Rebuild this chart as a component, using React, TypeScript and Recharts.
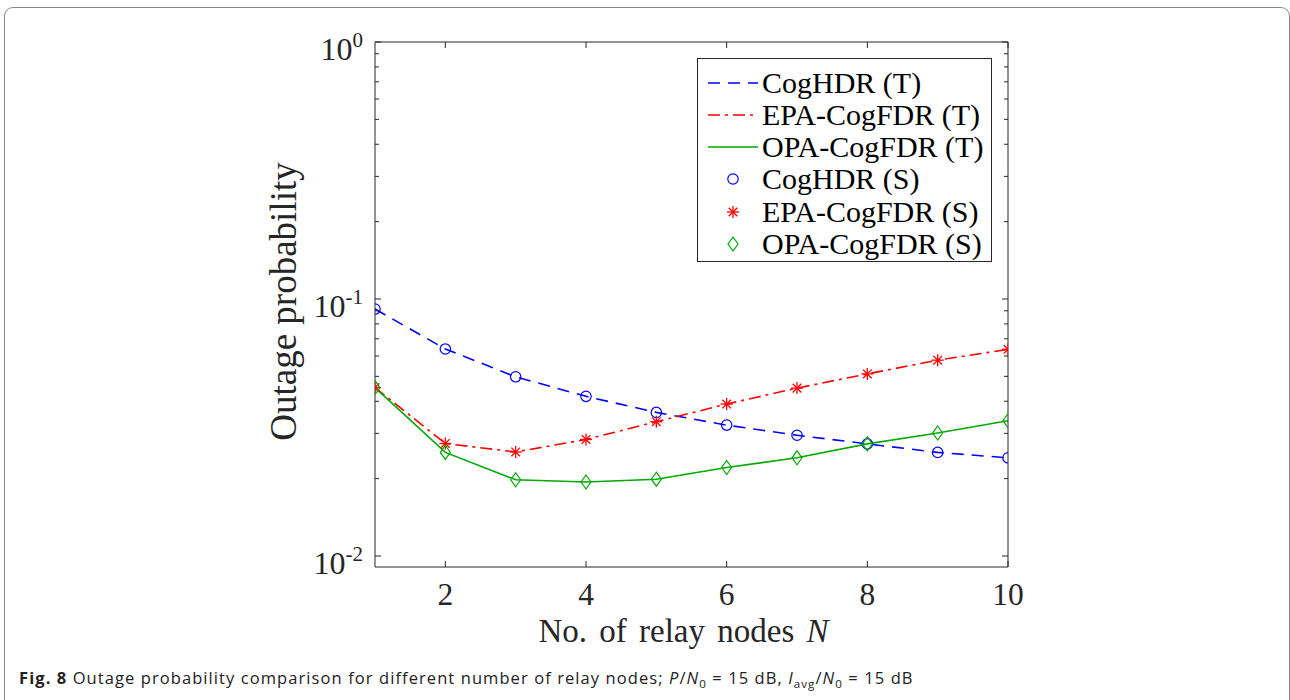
import { LineChart, Line, XAxis, YAxis, Legend } from "recharts";

// relay count N on the x axis
const relayNodes = [1, 2, 3, 4, 5, 6, 7, 8, 9, 10];

// outage probability per scheme
const cogHdr = [0.0914, 0.0639, 0.0498, 0.0418, 0.0362, 0.0323, 0.0295, 0.0273, 0.0253, 0.0241];
const epaCogFdr = [0.0452, 0.0274, 0.0254, 0.0284, 0.0333, 0.039, 0.045, 0.0511, 0.0578, 0.0637];
const opaCogFdr = [0.0452, 0.0253, 0.0198, 0.0194, 0.0199, 0.0221, 0.0241, 0.0273, 0.0301, 0.0336];

const xTicks = [2, 4, 6, 8, 10];
const yMajorTicks = [0.01, 0.1, 1];
const yMajorExponents = ["-2", "-1", "0"];
const yMinorTicks = [
  0.02, 0.03, 0.04, 0.05, 0.06, 0.07, 0.08, 0.09,
  0.2, 0.3, 0.4, 0.5, 0.6, 0.7, 0.8, 0.9,
];
const yDomain = [0.00906, 1];

const data = relayNodes.map((n, i) => ({
  n,
  hdr: cogHdr[i],
  epa: epaCogFdr[i],
  opa: opaCogFdr[i],
}));

const AXIS = "#262626";
const SERIF = '"Liberation Serif", "Times New Roman", serif';

const series = [
  { key: "hdr", label: "CogHDR", color: "#0000ff", dash: "12 8", marker: "circle" },
  { key: "epa", label: "EPA-CogFDR", color: "#ff0000", dash: "12 5 3 5", marker: "star" },
  { key: "opa", label: "OPA-CogFDR", color: "#00aa00", dash: undefined, marker: "diamond" },
];

function Marker({ cx, cy, kind, color }: { cx: number; cy: number; kind: string; color: string }) {
  if (kind === "circle") {
    return <circle cx={cx} cy={cy} r={5.2} fill="none" stroke={color} strokeWidth={1.2} />;
  }
  if (kind === "star") {
    const r = 6;
    const d = r * 0.72;
    return (
      <g stroke={color} strokeWidth={1.3}>
        <line x1={cx - r} y1={cy} x2={cx + r} y2={cy} />
        <line x1={cx} y1={cy - r} x2={cx} y2={cy + r} />
        <line x1={cx - d} y1={cy - d} x2={cx + d} y2={cy + d} />
        <line x1={cx - d} y1={cy + d} x2={cx + d} y2={cy - d} />
      </g>
    );
  }
  return (
    <polygon
      points={`${cx},${cy - 7} ${cx + 5},${cy} ${cx},${cy + 7} ${cx - 5},${cy}`}
      fill="none"
      stroke={color}
      strokeWidth={1.2}
    />
  );
}

function BottomTick({ x, y, payload }: any) {
  return (
    <g>
      <line x1={x} y1={y} x2={x} y2={y - 6} stroke={AXIS} />
      <text x={x} y={y + 38} textAnchor="middle" fontSize={31.5} fontFamily={SERIF} fill={AXIS}>
        {payload.value}
      </text>
    </g>
  );
}

function TopTick({ x, y }: any) {
  return <line x1={x} y1={y} x2={x} y2={y + 6} stroke={AXIS} />;
}

function LeftTick({ x, y, payload }: any) {
  const idx = yMajorTicks.indexOf(payload.value);
  const len = idx >= 0 ? 6 : 4;
  return (
    <g>
      <line x1={x} y1={y} x2={x + len} y2={y} stroke={AXIS} />
      {idx >= 0 && (
        <text x={x - 12} y={y + 18} textAnchor="end" fontSize={32} fontFamily={SERIF} fill={AXIS}>
          <tspan>10</tspan>
          <tspan dy={-13} fontSize={21}>
            {yMajorExponents[idx]}
          </tspan>
        </text>
      )}
    </g>
  );
}

function RightTick({ x, y, payload }: any) {
  const len = yMajorTicks.includes(payload.value) ? 6 : 4;
  return <line x1={x} y1={y} x2={x - len} y2={y} stroke={AXIS} />;
}

function YTitle({ viewBox }: any) {
  const cx = viewBox.x + viewBox.width - 79;
  const cy = viewBox.y + viewBox.height / 2 - 3;
  return (
    <text
      x={cx}
      y={cy}
      transform={`rotate(-90 ${cx} ${cy})`}
      textAnchor="middle"
      fontSize={37}
      fontFamily={SERIF}
      fill={AXIS}
    >
      Outage probability
    </text>
  );
}

function XTitle({ viewBox }: any) {
  const cx = viewBox.x + viewBox.width / 2 - 8;
  return (
    <text
      x={cx}
      y={viewBox.y + 75}
      textAnchor="middle"
      fontSize={33}
      wordSpacing={4}
      fontFamily={SERIF}
      fill={AXIS}
    >
      No. of relay nodes <tspan fontStyle="italic">N</tspan>
    </text>
  );
}

function LegendBox() {
  const rows = [
    ...series.map((s) => ({ ...s, text: `${s.label} (T)`, line: true })),
    ...series.map((s) => ({ ...s, text: `${s.label} (S)`, line: false })),
  ];
  return (
    <div
      style={{
        position: "relative",
        width: 295,
        height: 204,
        boxSizing: "border-box",
        border: `1px solid ${AXIS}`,
        background: "#fff",
      }}
    >
      {rows.map((r, i) => (
        <div key={r.text} style={{ position: "absolute", left: 0, top: 7.5 + i * 32.3, height: 32, width: "100%" }}>
          <svg width={56} height={32} style={{ position: "absolute", left: 8, top: 0 }}>
            {r.line ? (
              <line x1={2} y1={16} x2={52} y2={16} stroke={r.color} strokeWidth={1.6} strokeDasharray={r.dash} />
            ) : (
              <Marker cx={27} cy={16} kind={r.marker} color={r.color} />
            )}
          </svg>
          <span
            style={{
              position: "absolute",
              left: 64,
              top: 0,
              lineHeight: "32px",
              fontSize: 30,
              fontFamily: SERIF,
              color: "#000",
              whiteSpace: "nowrap",
            }}
          >
            {r.text}
          </span>
        </div>
      ))}
    </div>
  );
}

export default function App() {
  return (
    <>
      <div
        style={{
          position: "absolute",
          left: 4,
          top: 7,
          width: 1286,
          height: 693,
          boxSizing: "border-box",
          border: "1.5px solid #8a8a8a",
          borderBottom: "none",
          borderRadius: "9px 9px 0 0",
        }}
      />
      <div style={{ position: "absolute", left: 0, top: 0, width: 1290, height: 660 }}>
        <LineChart
          width={1290}
          height={660}
          data={data}
          margin={{ top: 40, right: 280, bottom: 91, left: 373 }}
        >
          <XAxis
            xAxisId="b"
            dataKey="n"
            type="number"
            domain={[1, 10]}
            ticks={xTicks}
            interval={0}
            height={2}
            tickSize={0}
            tickMargin={0}
            tickLine={false}
            axisLine={{ stroke: AXIS }}
            tick={(p: any) => <BottomTick {...p} />}
            allowDataOverflow
            label={{ content: XTitle }}
          />
          <XAxis
            xAxisId="t"
            dataKey="n"
            orientation="top"
            type="number"
            domain={[1, 10]}
            ticks={xTicks}
            interval={0}
            height={2}
            tickSize={0}
            tickMargin={0}
            tickLine={false}
            axisLine={{ stroke: AXIS }}
            tick={(p: any) => <TopTick {...p} />}
            allowDataOverflow
          />
          <YAxis
            yAxisId="l"
            type="number"
            scale="log"
            domain={yDomain}
            ticks={[...yMajorTicks, ...yMinorTicks]}
            interval={0}
            width={2}
            tickSize={0}
            tickMargin={0}
            tickLine={false}
            axisLine={{ stroke: AXIS }}
            tick={(p: any) => <LeftTick {...p} />}
            allowDataOverflow
            label={{ content: YTitle }}
          />
          <YAxis
            yAxisId="r"
            orientation="right"
            type="number"
            scale="log"
            domain={yDomain}
            ticks={[...yMajorTicks, ...yMinorTicks]}
            interval={0}
            width={2}
            tickSize={0}
            tickMargin={0}
            tickLine={false}
            axisLine={{ stroke: AXIS }}
            tick={(p: any) => <RightTick {...p} />}
            allowDataOverflow
          />
          {series.map((s) => (
            <Line
              key={`${s.key}-t`}
              xAxisId="b"
              yAxisId="l"
              name={`${s.label} (T)`}
              dataKey={s.key}
              type="linear"
              stroke={s.color}
              strokeWidth={1.6}
              strokeDasharray={s.dash}
              dot={false}
              activeDot={false}
              isAnimationActive={false}
            />
          ))}
          {series.map((s) => (
            <Line
              key={`${s.key}-s`}
              xAxisId="b"
              yAxisId="l"
              name={`${s.label} (S)`}
              dataKey={s.key}
              type="linear"
              stroke="none"
              dot={(p: any) => <Marker key={p.index} cx={p.cx} cy={p.cy} kind={s.marker} color={s.color} />}
              activeDot={false}
              isAnimationActive={false}
            />
          ))}
          <Legend
            layout="horizontal"
            verticalAlign="middle"
            align="center"
            content={LegendBox}
            wrapperStyle={{ left: 697, top: 58, width: 295, height: 204 }}
          />
        </LineChart>
      </div>
      <div
        style={{
          position: "absolute",
          left: 19,
          top: 668,
          fontSize: 16.5,
          letterSpacing: 1.08,
          lineHeight: "20px",
          fontFamily: '"Open Sans", sans-serif',
          color: "#222",
          whiteSpace: "nowrap",
        }}
      >
        <b>Fig. 8</b> Outage probability comparison for different number of relay nodes; <i>P</i>/<i>N</i>
        <sub style={{ fontSize: "0.7em", lineHeight: 0 }}>0</sub> = 15 dB, <i>I</i>
        <sub style={{ fontSize: "0.7em", lineHeight: 0 }}>avg</sub>/<i>N</i>
        <sub style={{ fontSize: "0.7em", lineHeight: 0 }}>0</sub> = 15 dB
      </div>
    </>
  );
}
